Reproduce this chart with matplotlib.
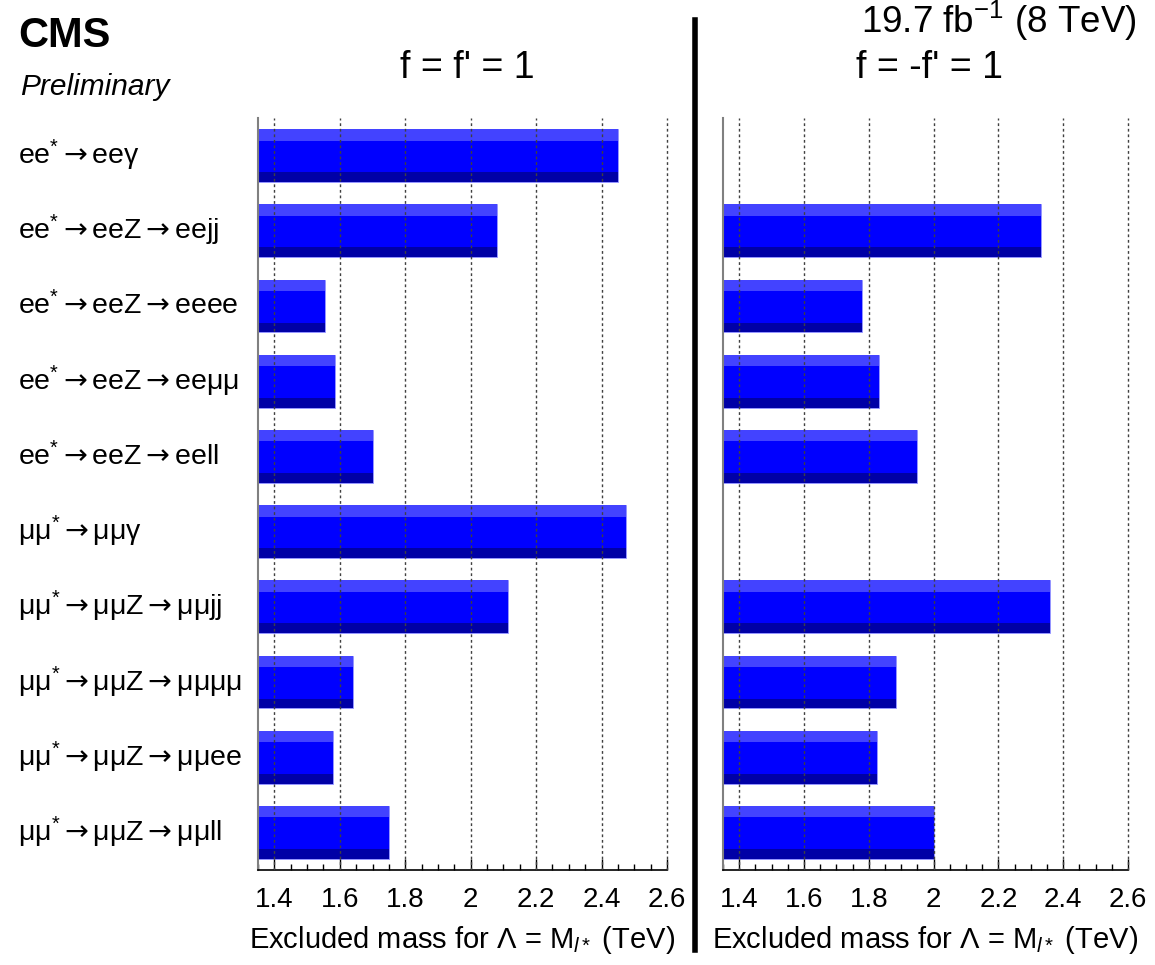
import numpy as np
import matplotlib
matplotlib.use('Agg')
import matplotlib.pyplot as plt
from matplotlib.lines import Line2D
from matplotlib.ticker import MultipleLocator
import matplotlib.transforms as mtrans

plt.rcParams['font.family'] = ['Liberation Sans', 'DejaVu Sans']
plt.rcParams['mathtext.fontset'] = 'custom'
plt.rcParams['mathtext.rm'] = 'Liberation Sans'
plt.rcParams['mathtext.it'] = 'Liberation Sans:italic'
plt.rcParams['mathtext.bf'] = 'Liberation Sans:bold'
plt.rcParams['mathtext.sf'] = 'DejaVu Sans'

AR = r"$\mathsf{\rightarrow}$"
ST = r"$^{*}$"

# channel names, top to bottom
channels = ["ee" + ST + AR + "eeγ", "ee" + ST + AR + "eeZ" + AR + "eejj",
            "ee" + ST + AR + "eeZ" + AR + "eeee", "ee" + ST + AR + "eeZ" + AR + "eeμμ",
            "ee" + ST + AR + "eeZ" + AR + "eell", "μμ" + ST + AR + "μμγ",
            "μμ" + ST + AR + "μμZ" + AR + "μμjj", "μμ" + ST + AR + "μμZ" + AR + "μμμμ",
            "μμ" + ST + AR + "μμZ" + AR + "μμee", "μμ" + ST + AR + "μμZ" + AR + "μμll"]
# excluded mass (TeV), f = f' = 1
mass_same = [2.45, 2.08, 1.555, 1.585, 1.70, 2.475, 2.115, 1.64, 1.58, 1.75]
# excluded mass (TeV), f = -f' = 1 (no limit for photon channels)
mass_opp = [np.nan, 2.33, 1.78, 1.83, 1.95, np.nan, 2.36, 1.885, 1.825, 2.0]

xmin, xmax = 1.35, 2.6
xticks = [1.4, 1.6, 1.8, 2.0, 2.2, 2.4, 2.6]
xticklabels = ['1.4', '1.6', '1.8', '2', '2.2', '2.4', '2.6']

fig = plt.figure(figsize=(11.55, 9.65), dpi=100)
ax1 = fig.add_axes([258/1155, 95/965, 409/1155, 752/965])
ax2 = fig.add_axes([723/1155, 95/965, 405/1155, 752/965])

ypos = np.arange(len(channels))
h = 0.7
for ax, vals in [(ax1, mass_same), (ax2, mass_opp)]:
    vals = np.array(vals)
    w = vals - xmin
    # main bar plus lighter top band and darker bottom band (ROOT "bar" look)
    ax.barh(ypos, w, left=xmin, height=h, color='#0000ff', edgecolor='#9a9aff', linewidth=0.6, zorder=1)
    ax.barh(ypos - h/2 + 0.075, w, left=xmin, height=0.15, color='#4343ff', linewidth=0, zorder=1.1)
    ax.barh(ypos + h/2 - 0.065, w, left=xmin, height=0.13, color='#0000a6', linewidth=0, zorder=1.1)
    ax.set_xlim(xmin, xmax)
    ax.set_ylim(len(channels) - 0.5, -0.5)
    ax.set_yticks([])
    ax.set_xticks(xticks)
    ax.set_xticklabels(xticklabels, fontsize=20)
    ax.xaxis.set_minor_locator(MultipleLocator(0.05))
    ax.tick_params(axis='x', which='major', direction='in', length=8, width=1, pad=12)
    ax.tick_params(axis='x', which='minor', direction='in', length=4.5, width=1)
    for x in xticks:
        ax.axvline(x, color='#404040', linestyle=(0, (2, 2)), linewidth=1.0, zorder=3, clip_on=False)
    ax.spines['top'].set_visible(False)
    ax.spines['right'].set_visible(False)
    ax.spines['left'].set_color('#808080')
    ax.spines['left'].set_linewidth(1.5)
    ax.spines['bottom'].set_linewidth(1.2)
    ax.set_xlabel(r"Excluded mass for Λ = M$_{l*}$ (TeV)", fontsize=21, labelpad=8)

# channel labels on the left
trans = mtrans.blended_transform_factory(fig.transFigure, ax1.transData)
for i, lab in enumerate(channels):
    fig.text(18/1155, i, lab, transform=trans, fontsize=20.5, ha='left', va='center')

fig.text(18/1155, 1 - 47/965, 'CMS', fontsize=30, fontweight='bold', ha='left', va='baseline')
fig.text(20/1155, 1 - 95/965, 'Preliminary', fontsize=21.5, style='italic', ha='left', va='baseline')
fig.text(1137/1155, 1 - 33/965, r"19.7 fb$^{-1}$ (8 TeV)", fontsize=26.5, ha='right', va='baseline')
fig.text(467/1155, 1 - 78/965, "f = f' = 1", fontsize=27, ha='center', va='baseline')
fig.text(930/1155, 1 - 78/965, "f = -f' = 1", fontsize=27, ha='center', va='baseline')

# thick separator between the two panels
fig.add_artist(Line2D([695/1155, 695/1155], [1 - 20/965, 1 - 950/965], color='black', linewidth=4,
                      transform=fig.transFigure))

fig.savefig('out.png', dpi=100)
